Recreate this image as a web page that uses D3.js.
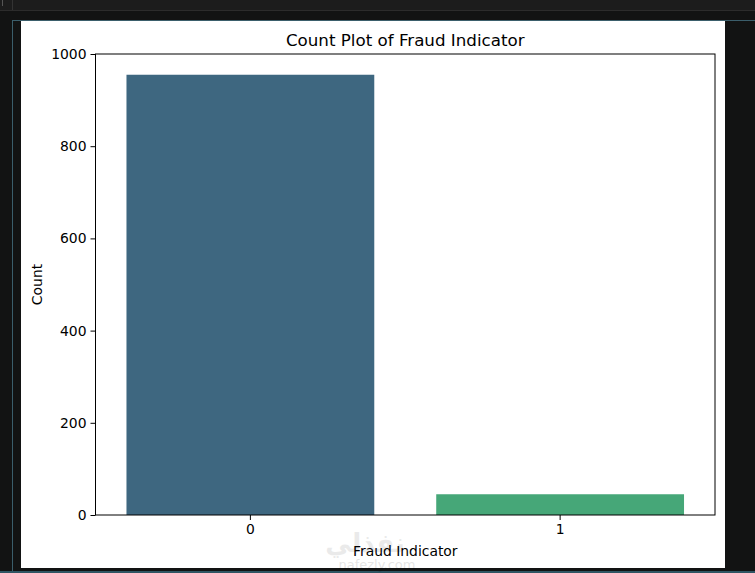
<!DOCTYPE html>
<html>
<head>
<meta charset="utf-8">
<script src="https://cdn.jsdelivr.net/npm/d3@7"></script>
<style>
  body { margin: 0; background: #121313; }
  svg { display: block; font-family: "DejaVu Sans", sans-serif; }
</style>
</head>
<body>
<svg></svg>
<script>
var categories = ["0", "1"];
var counts = [955, 45];
var barColors = ["#3e6780", "#46a778"];
var yTicks = [0, 200, 400, 600, 800, 1000];

var svgWidth = 755,
  svgHeight = 573;

var svg = d3.select("svg").attr("width", svgWidth).attr("height", svgHeight);

// editor chrome around the figure
svg.append("rect").attr("width", svgWidth).attr("height", 10).attr("fill", "#1c1c1c");
svg.append("line").attr("x1", 0).attr("x2", svgWidth).attr("y1", 10.5).attr("y2", 10.5)
  .attr("stroke", "#2c2c2c");
svg.append("line").attr("x1", 2.5).attr("x2", 2.5).attr("y1", 0).attr("y2", 6)
  .attr("stroke", "#555");
svg.append("line").attr("x1", 12.5).attr("x2", 12.5).attr("y1", 0).attr("y2", 10)
  .attr("stroke", "#333");
svg.append("line").attr("x1", 12).attr("x2", svgWidth).attr("y1", 20.5).attr("y2", 20.5)
  .attr("stroke", "#3b5e6b");
svg.append("line").attr("x1", 12.5).attr("x2", 12.5).attr("y1", 20).attr("y2", svgHeight)
  .attr("stroke", "#3b5e6b");
svg.append("rect").attr("x", 0).attr("y", 571).attr("width", svgWidth).attr("height", 2)
  .attr("fill", "#2f5563");

// figure area
svg.append("rect").attr("x", 21).attr("y", 21).attr("width", 704).attr("height", 547)
  .attr("fill", "#ffffff");

var margin = { left: 95.5, top: 54, right: 715, bottom: 515 };

var x = d3.scaleBand().domain(categories).range([margin.left, margin.right]).paddingInner(0.2).paddingOuter(0.1);
var y = d3.scaleLinear().domain([0, 1000]).range([margin.bottom, margin.top]);

svg.selectAll("rect.bar")
  .data(counts)
  .enter()
  .append("rect")
  .attr("class", "bar")
  .attr("x", function (d, i) { return x(categories[i]); })
  .attr("y", function (d) { return y(d); })
  .attr("width", x.bandwidth())
  .attr("height", function (d) { return y(0) - y(d); })
  .attr("fill", function (d, i) { return barColors[i]; });

var yAxis = svg.append("g")
  .attr("transform", "translate(" + margin.left + ",0)")
  .call(d3.axisLeft(y).tickValues(yTicks).tickFormat(d3.format("d")).tickSize(5).tickPadding(4));

var xAxis = svg.append("g")
  .attr("transform", "translate(0," + margin.bottom + ")")
  .call(d3.axisBottom(x).tickSize(5).tickPadding(4));

[yAxis, xAxis].forEach(function (g) {
  g.select(".domain").remove();
  g.selectAll("text").attr("font-size", 13.9).attr("fill", "#000").attr("font-family", "DejaVu Sans");
  g.selectAll("line").attr("stroke", "#000");
});

// frame
svg.append("rect")
  .attr("x", margin.left).attr("y", margin.top)
  .attr("width", margin.right - margin.left).attr("height", margin.bottom - margin.top)
  .attr("fill", "none").attr("stroke", "#000").attr("stroke-width", 1);

svg.append("text")
  .attr("x", (margin.left + margin.right) / 2).attr("y", 46)
  .attr("text-anchor", "middle").attr("font-size", 16.7)
  .text("Count Plot of Fraud Indicator");

svg.append("text")
  .attr("x", (margin.left + margin.right) / 2).attr("y", 556)
  .attr("text-anchor", "middle").attr("font-size", 13.9)
  .text("Fraud Indicator");

svg.append("text")
  .attr("transform", "translate(42," + (margin.top + margin.bottom) / 2 + ") rotate(-90)")
  .attr("text-anchor", "middle").attr("font-size", 13.9)
  .text("Count");

// watermark
svg.append("text")
  .attr("x", 365).attr("y", 552).attr("text-anchor", "middle")
  .attr("font-size", 26).attr("font-weight", "bold").attr("fill", "#000").attr("opacity", 0.08)
  .attr("font-family", "Noto Sans, DejaVu Sans")
  .text("نفذلي");
svg.append("text")
  .attr("x", 377).attr("y", 569).attr("text-anchor", "middle")
  .attr("font-size", 13).attr("fill", "#000").attr("opacity", 0.1)
  .text("nafezly.com");
</script>
</body>
</html>
